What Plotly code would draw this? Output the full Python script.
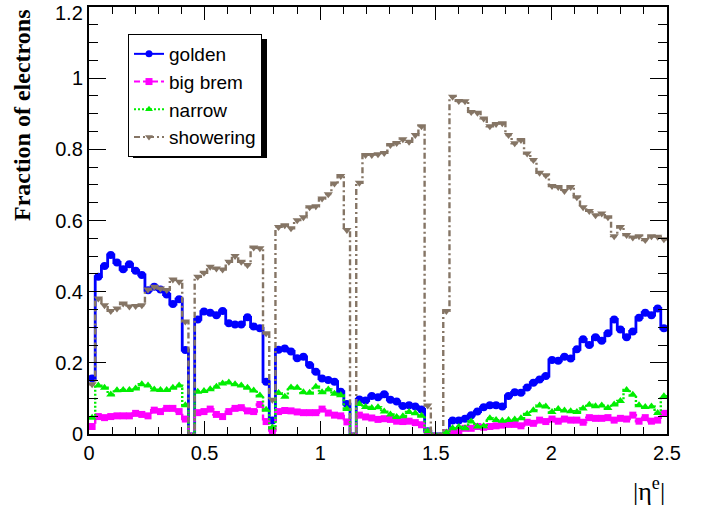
import numpy as np
import plotly.graph_objects as go

# ---------------- data (fraction per |eta| bin, 93 bins over 0..2.5) ----------------
eta_min, eta_max = 0.0, 2.5

golden = [0.156, 0.442, 0.472, 0.503, 0.482, 0.463, 0.477, 0.459, 0.447, 0.404,
          0.414, 0.406, 0.392, 0.365, 0.379, 0.236, 0.0, 0.322, 0.344, 0.341,
          0.334, 0.346, 0.311, 0.308, 0.308, 0.328, 0.302, 0.297, 0.147, 0.038,
          0.237, 0.240, 0.232, 0.213, 0.217, 0.194, 0.175, 0.156, 0.152, 0.147,
          0.119, 0.084, 0.0, 0.097, 0.094, 0.107, 0.103, 0.112, 0.096, 0.091,
          0.079, 0.081, 0.077, 0.069, 0.008, 0.0, 0.0, 0.0, 0.038, 0.038,
          0.043, 0.053, 0.063, 0.075, 0.081, 0.081, 0.077, 0.107, 0.117, 0.116,
          0.131, 0.144, 0.153, 0.163, 0.208, 0.206, 0.217, 0.212, 0.238, 0.266,
          0.250, 0.272, 0.262, 0.283, 0.322, 0.294, 0.272, 0.288, 0.327, 0.341,
          0.334, 0.353, 0.297]

big_brem = [0.021, 0.049, 0.046, 0.049, 0.051, 0.051, 0.051, 0.058, 0.055, 0.051,
            0.067, 0.063, 0.072, 0.072, 0.063, 0.042, 0.0, 0.060, 0.063, 0.070,
            0.055, 0.049, 0.063, 0.072, 0.074, 0.065, 0.063, 0.083, 0.035, 0.010,
            0.063, 0.066, 0.065, 0.062, 0.060, 0.060, 0.060, 0.070, 0.059, 0.053,
            0.051, 0.034, 0.0, 0.053, 0.048, 0.045, 0.041, 0.043, 0.041, 0.036,
            0.035, 0.036, 0.032, 0.026, 0.006, 0.0, 0.0, 0.004, 0.009, 0.009,
            0.016, 0.016, 0.021, 0.019, 0.021, 0.023, 0.025, 0.027, 0.027, 0.023,
            0.033, 0.030, 0.039, 0.035, 0.042, 0.036, 0.042, 0.039, 0.039, 0.033,
            0.046, 0.044, 0.044, 0.046, 0.039, 0.044, 0.042, 0.053, 0.036, 0.046,
            0.036, 0.039, 0.058]

narrow = [0.046, 0.136, 0.130, 0.111, 0.123, 0.124, 0.124, 0.128, 0.140, 0.136,
          0.125, 0.124, 0.124, 0.130, 0.136, 0.081, 0.0, 0.119, 0.121, 0.126,
          0.133, 0.142, 0.145, 0.140, 0.136, 0.130, 0.122, 0.108, 0.068, 0.018,
          0.115, 0.105, 0.131, 0.130, 0.117, 0.116, 0.133, 0.117, 0.125, 0.113,
          0.109, 0.070, 0.0, 0.084, 0.076, 0.073, 0.075, 0.063, 0.055, 0.048,
          0.050, 0.062, 0.058, 0.051, 0.008, 0.0, 0.0, 0.004, 0.016, 0.020,
          0.016, 0.035, 0.021, 0.022, 0.044, 0.039, 0.037, 0.039, 0.041, 0.044,
          0.056, 0.067, 0.080, 0.077, 0.062, 0.070, 0.066, 0.064, 0.062, 0.072,
          0.082, 0.078, 0.080, 0.073, 0.083, 0.093, 0.124, 0.110, 0.081, 0.076,
          0.077, 0.059, 0.106]

showering = [0.140, 0.381, 0.362, 0.346, 0.353, 0.367, 0.358, 0.360, 0.362, 0.406,
             0.414, 0.409, 0.405, 0.434, 0.428, 0.316, 0.0, 0.442, 0.453, 0.470,
             0.465, 0.462, 0.484, 0.500, 0.484, 0.475, 0.524, 0.522, 0.283, 0.096,
             0.582, 0.587, 0.578, 0.601, 0.609, 0.637, 0.640, 0.662, 0.674, 0.704,
             0.725, 0.573, 0.0, 0.706, 0.784, 0.784, 0.786, 0.790, 0.812, 0.818,
             0.828, 0.821, 0.840, 0.865, 0.080, 0.0, 0.0, 0.346, 0.948, 0.936,
             0.935, 0.905, 0.903, 0.887, 0.865, 0.871, 0.873, 0.840, 0.817, 0.826,
             0.788, 0.770, 0.734, 0.727, 0.697, 0.694, 0.683, 0.694, 0.665, 0.637,
             0.627, 0.615, 0.620, 0.609, 0.556, 0.582, 0.559, 0.552, 0.556, 0.545,
             0.556, 0.554, 0.547]

series_names = ["golden", "big brem", "narrow", "showering"]
series_values = [golden, big_brem, narrow, showering]

y_ticks = [0, 0.2, 0.4, 0.6, 0.8, 1.0, 1.2]
y_ticktext = ["0", "0.2", "0.4", "0.6", "0.8", "1", ""]   # top label drawn separately (kept inside)
y_top_label = "1.2"
x_ticks = [0, 0.5, 1.0, 1.5, 2.0, 2.5]
x_ticktext = ["0", "0.5", "1", "1.5", "2", "2.5"]

# ---------------- styles ----------------
styles = {
    "golden":    dict(color="#0000ff", dash="solid",           width=2.8, symbol="circle",        size=8),
    "big brem":  dict(color="#ff00ff", dash="6px,3px",         width=2.4, symbol="square",        size=7),
    "narrow":    dict(color="#00ee00", dash="2px,2px",         width=2.4, symbol="triangle-up",   size=8),
    "showering": dict(color="#857565", dash="6px,3px,2px,3px", width=2.4, symbol="triangle-down", size=8),
}

N = len(golden)
edges = np.linspace(eta_min, eta_max, N + 1)
centers = 0.5 * (edges[:-1] + edges[1:])


def step_path(vals):
    xs, ys = [], []
    for i, v in enumerate(vals):
        xs += [edges[i], edges[i + 1]]
        ys += [v, v]
    return xs, ys


fig = go.Figure()
for name, vals in zip(series_names, series_values):
    st = styles[name]
    xs, ys = step_path(vals)
    fig.add_trace(go.Scatter(
        x=xs, y=ys, mode="lines", showlegend=False, hoverinfo="skip",
        line=dict(color=st["color"], dash=st["dash"], width=st["width"])))
    my = [v if v > 0 else None for v in vals]
    fig.add_trace(go.Scatter(
        x=centers, y=my, mode="markers", showlegend=False,
        marker=dict(color=st["color"], symbol=st["symbol"], size=st["size"], line=dict(width=0))))
    fig.add_trace(go.Scatter(
        x=[None], y=[None], mode="lines+markers", name=name,
        line=dict(color=st["color"], dash=st["dash"], width=2),
        marker=dict(color=st["color"], symbol=st["symbol"], size=7)))

W, H = 707, 506
ml, mr, mt, mb = 89, 40, 7, 72
pw, ph = W - ml - mr, H - mt - mb


def px_x(p):
    return (p - ml) / pw


def px_y(p):
    return (H - mb - p) / ph


# legend box (pixel estimates) and ROOT-style shadow
lg_l, lg_t, lg_w, lg_h = 128, 34, 134, 119
fig.add_shape(type="rect", xref="paper", yref="paper",
              x0=px_x(lg_l + 5), x1=px_x(lg_l + lg_w + 5),
              y0=px_y(lg_t + lg_h + 5), y1=px_y(lg_t + 5),
              fillcolor="black", line=dict(width=0), layer="above")

tickfont = dict(family="Liberation Sans, Arial, sans-serif", size=20, color="black")

fig.update_layout(
    width=W, height=H,
    margin=dict(l=ml, r=mr, t=mt, b=mb, autoexpand=False),
    paper_bgcolor="white", plot_bgcolor="white",
    showlegend=True,
    legend=dict(x=px_x(lg_l), y=px_y(lg_t), xanchor="left", yanchor="top",
                bgcolor="white", bordercolor="black", borderwidth=1,
                font=dict(family="Liberation Sans, Arial, sans-serif", size=19, color="black"),
                tracegroupgap=0, traceorder="normal"),
    xaxis=dict(range=[eta_min, eta_max + 1e-9], showgrid=False, zeroline=False,
               showline=True, linecolor="black", linewidth=2, mirror="allticks",
               ticks="inside", ticklen=13, tickwidth=1, tickcolor="black",
               tickvals=x_ticks, ticktext=x_ticktext, tickfont=tickfont,
               ticklabeloverflow="allow",
               minor=dict(dtick=0.1, tick0=0, ticks="inside", ticklen=7, tickcolor="black", tickwidth=1)),
    yaxis=dict(range=[0, 1.2 + 1e-9], showgrid=False, zeroline=False,
               showline=True, linecolor="black", linewidth=2, mirror="allticks",
               ticks="inside", ticklen=17, tickwidth=1, tickcolor="black",
               tickvals=y_ticks, ticktext=y_ticktext, tickfont=tickfont,
               ticklabeloverflow="allow",
               minor=dict(dtick=0.05, tick0=0, ticks="inside", ticklen=9, tickcolor="black", tickwidth=1)),
    annotations=[
        dict(text=y_top_label, xref="paper", yref="paper",
             x=px_x(85), y=px_y(13), xanchor="right", yanchor="middle",
             showarrow=False, font=tickfont),
        dict(text="<b>Fraction of electrons</b>", xref="paper", yref="paper",
             x=px_x(22), y=1.0, xanchor="center", yanchor="top", textangle=-90,
             showarrow=False,
             font=dict(family="Liberation Serif, Times New Roman, serif", size=24, color="black")),
        dict(text="|η<sup>e</sup>|", xref="paper", yref="paper",
             x=1.0, y=px_y(490), xanchor="right", yanchor="middle",
             showarrow=False,
             font=dict(family="Liberation Serif, Times New Roman, serif", size=26, color="black")),
    ],
)

fig.write_html("out.html", config={"displayModeBar": False},
               post_script="document.body.style.margin='0px';")
